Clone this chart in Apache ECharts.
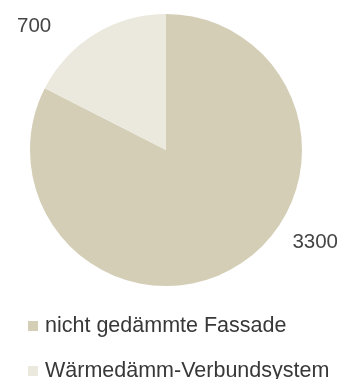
<!DOCTYPE html>
<html>
<head>
<meta charset="utf-8">
<script src="https://cdn.jsdelivr.net/npm/echarts@6/dist/echarts.min.js"></script>
<style>
  html, body { margin: 0; padding: 0; background: #fff; }
  #chart { width: 342px; height: 379px; }
</style>
</head>
<body>
<div id="chart"></div>
<script>
// Facade types and their counts
const categories = ['nicht gedämmte Fassade', 'Wärmedämm-Verbundsystem'];
const values = [3300, 700];
const colors = ['#d4ceb6', '#ebe8de'];

// Anchor points for the two value labels
const labelSpots = [
  { x: 338, y: 242, align: 'right' },
  { x: 17, y: 26, align: 'left' }
];

const chart = echarts.init(document.getElementById('chart'));
chart.setOption({
  animation: false,
  legend: {
    orient: 'vertical',
    left: 28,
    top: 315,
    height: 90,
    padding: 0,
    itemWidth: 10,
    itemHeight: 10,
    itemGap: 23,
    icon: 'rect',
    data: categories,
    textStyle: {
      fontFamily: 'Liberation Sans, Arial, sans-serif',
      fontSize: 21.5,
      color: '#383838',
      padding: [0, 0, 0, 2]
    }
  },
  series: [{
    type: 'pie',
    center: [166, 150],
    radius: 136,
    startAngle: 90,
    clockwise: true,
    data: categories.map((name, i) => ({
      name,
      value: values[i],
      itemStyle: { color: colors[i] }
    })),
    label: {
      show: true,
      formatter: '{c}',
      fontFamily: 'Liberation Sans, Arial, sans-serif',
      fontSize: 20.5,
      color: '#454545'
    },
    labelLine: { show: false },
    labelLayout: function (params) {
      const s = labelSpots[params.dataIndex];
      return { x: s.x, y: s.y, align: s.align, verticalAlign: 'middle' };
    },
    emphasis: { disabled: true }
  }]
});
</script>
</body>
</html>
